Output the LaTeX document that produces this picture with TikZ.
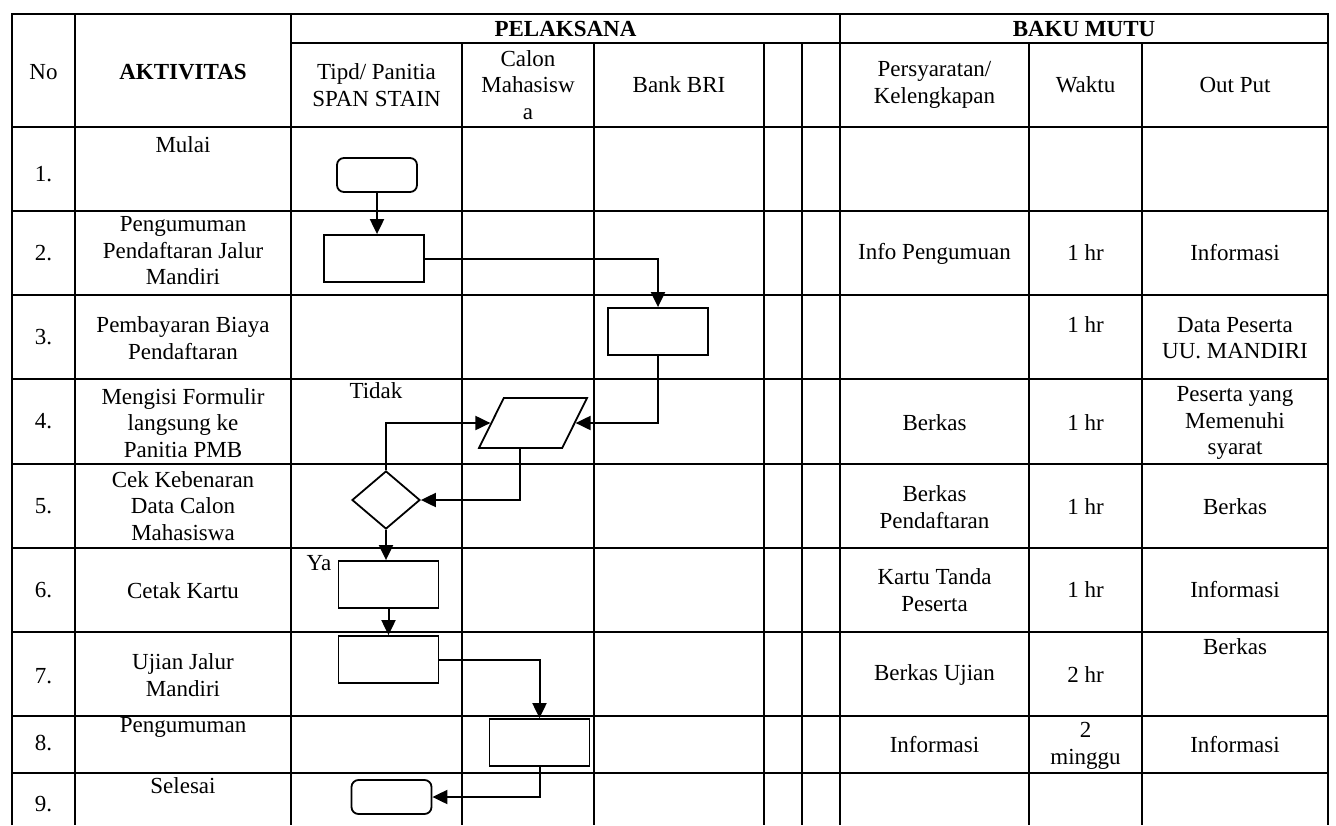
\documentclass[tikz,border=0pt]{standalone}
\usepackage{fontspec}
\setmainfont{Liberation Serif}
\usetikzlibrary{arrows.meta,shapes.geometric,calc}

\begin{document}
\begin{tikzpicture}[x=1pt,y=-1pt,
  font=\fontsize{23}{26.5}\selectfont,
  grid/.style={line width=2.2pt},
  txt/.style={align=center,inner sep=0pt},
  proc/.style={draw,line width=1.8pt,minimum width=100pt,minimum height=47pt,inner sep=0pt},
  term/.style={draw,line width=1.8pt,rounded corners=7pt,minimum width=80pt,minimum height=34pt,inner sep=0pt},
  flow/.style={line width=2pt,-{Triangle[length=15pt,width=14pt]}}]

  \useasboundingbox (0,0) rectangle (1336,825);

  % ================= tabel =================
  \draw[grid] (12,825) -- (12,14) -- (1328,14) -- (1328,825);
  \draw[grid] (291,43) -- (1328,43);
  \foreach \x in {75,291,840} \draw[grid] (\x,14) -- (\x,825);
  \foreach \x in {462,594,764,802,1029,1142} \draw[grid] (\x,43) -- (\x,825);
  \foreach \y in {127,211,295,379,464,548,632,716,773} \draw[grid] (12,\y) -- (1328,\y);

  % judul kolom
  \node[txt] (hNo) at (43.5,72) {No};
  \node[txt,font=\fontsize{23}{26.5}\selectfont\bfseries] (hAkt) at (183,72) {AKTIVITAS};
  \node[txt,font=\fontsize{23}{26.5}\selectfont\bfseries] (hPel) at (565.5,29) {PELAKSANA};
  \node[txt,font=\fontsize{23}{26.5}\selectfont\bfseries] (hBaku) at (1084,29) {BAKU MUTU};
  \node[txt] (hTipd) at (376.5,85) {Tipd/ Panitia\\SPAN STAIN};
  \node[txt] (hCalon) at (528,85) {Calon\\Mahasisw\\a};
  \node[txt] (hBank) at (679,85) {Bank BRI};
  \node[txt] (hSyarat) at (934.5,85) {Persyaratan/\\Kelengkapan};
  \node[txt] (hWaktu) at (1085.5,85) {Waktu};
  \node[txt] (hOut) at (1235,85) {Out Put};

  % nomor
  \foreach \i/\y in {1/174,2/253,3/337,4/421,5/506,6/590,7/676,8/743,9/804}
    \node[txt] (no\i) at (43.5,\y) {\i.};

  % aktivitas
  \node[txt] (a1) at (183,145) {Mulai};
  \node[txt] (a2) at (183,251) {Pengumuman\\Pendaftaran Jalur\\Mandiri};
  \node[txt] (a3) at (183,338) {Pembayaran Biaya\\Pendaftaran};
  \node[txt] (a4) at (183,423) {Mengisi Formulir\\langsung ke\\Panitia PMB};
  \node[txt] (a5) at (183,506) {Cek Kebenaran\\Data Calon\\Mahasiswa};
  \node[txt] (a6) at (183,591) {Cetak Kartu};
  \node[txt] (a7) at (183,675) {Ujian Jalur\\Mandiri};
  \node[txt] (a8) at (183,727) {Pengumuman};
  \node[txt] (a9) at (183,786) {Selesai};

  % baku mutu
  \node[txt] (s2) at (934.5,254) {Info Pengumuan};
  \node[txt] (s4) at (934.5,423) {Berkas};
  \node[txt] (s5) at (934.5,507) {Berkas\\Pendaftaran};
  \node[txt] (s6) at (934.5,590) {Kartu Tanda\\Peserta};
  \node[txt] (s7) at (934.5,675) {Berkas Ujian};
  \node[txt] (s8) at (934.5,745) {Informasi};

  \node[txt] (w2) at (1085.5,253) {1 hr};
  \node[txt] (w3) at (1085.5,325) {1 hr};
  \node[txt] (w4) at (1085.5,423) {1 hr};
  \node[txt] (w5) at (1085.5,507) {1 hr};
  \node[txt] (w6) at (1085.5,590) {1 hr};
  \node[txt] (w7) at (1085.5,675) {2 hr};
  \node[txt] (w8) at (1085.5,746) {2\\minggu};

  \node[txt] (o2) at (1235,253) {Informasi};
  \node[txt] (o3) at (1235,338) {Data Peserta\\UU. MANDIRI};
  \node[txt] (o4) at (1235,423) {Peserta yang\\Memenuhi\\syarat};
  \node[txt] (o5) at (1235,507) {Berkas};
  \node[txt] (o6) at (1235,590) {Informasi};
  \node[txt] (o7) at (1235,647) {Berkas};
  \node[txt] (o8) at (1235,745) {Informasi};

  % ================= alur =================
  \node[term] (mulai) at (377,175) {};
  \node[proc] (umum) at (374,258.5) {};
  \node[proc] (bayar) at (658,331.5) {};
  \node[trapezium,trapezium left angle=67,trapezium right angle=113,trapezium stretches,
        draw,line width=1.8pt,minimum width=108pt,minimum height=50pt,inner sep=2pt] (isi) at (533,423) {};
  \node[diamond,draw,line width=1.8pt,minimum width=68pt,minimum height=58pt,inner sep=0pt] (cek) at (386,500) {};
  \node[proc] (cetak) at (388.5,584.5) {};
  \node[proc] (ujian) at (388.5,659.5) {};
  \node[proc] (hasil) at (539.5,742.5) {};
  \node[term] (selesai) at (391.5,797) {};

  \node[txt] (tidak) at (376,391) {Tidak};
  \node[txt] (ya) at (319,563) {Ya};

  \draw[flow] (mulai.south) -- (mulai.south |- umum.north);
  \draw[flow] (umum.east) -| (bayar.north);
  \draw[flow] (bayar.south) |- (isi.east);
  \draw[flow] (cek.north) |- (isi.west);
  \draw[flow] ($(isi.bottom left corner)!0.5!(isi.bottom right corner)$) |- (cek.east);
  \draw[flow] (cek.south) -- (cek.south |- cetak.north);
  \draw[flow] (cetak) -- (ujian);
  \draw[flow] (ujian.east) -| (hasil.north);
  \draw[flow] (hasil.south) |- (selesai.east);
\end{tikzpicture}
\end{document}
